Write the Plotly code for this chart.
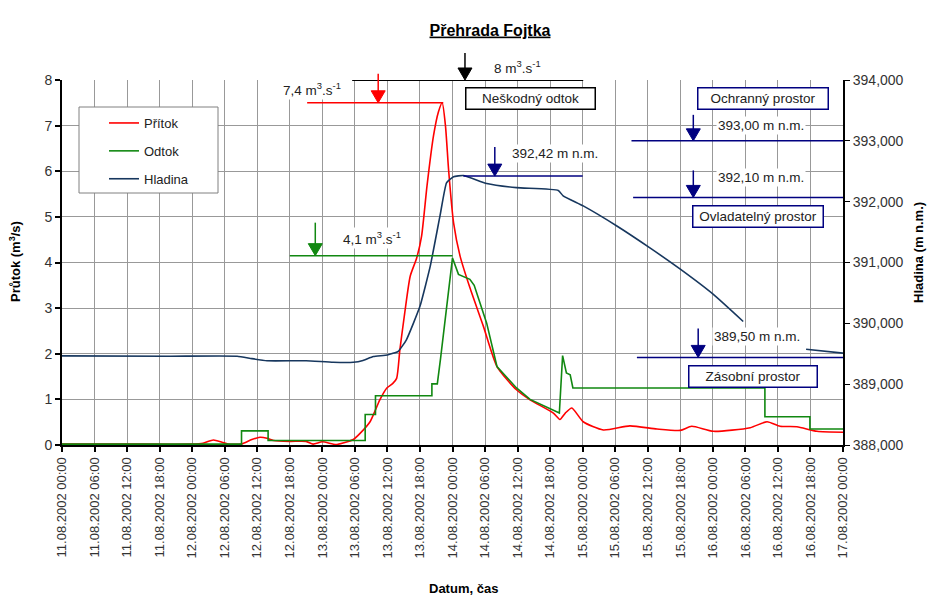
import datetime as dt
import plotly.graph_objects as go

# ---------------- data ----------------
BASE = dt.datetime(2002, 8, 11, 0, 0)

# Přítok (inflow, m3/s) – hours from 11.08.2002 00:00
pritok_h = [0, 12, 24, 26, 27.9, 29.5, 30.6, 33, 35, 36.5, 37.8, 39, 42, 45, 46.3, 48, 50.5,
            52, 53.7, 55, 56.8, 58.6, 59.9, 61, 61.7, 62.3, 63.2, 64.2, 65.4, 66.3, 67.3,
            68.5, 69.4, 70.1, 70.7, 71.3, 72.2, 73.4, 75.2, 77.7, 80.2, 83.8, 86.3, 90.6,
            91.8, 92.8, 94, 96.1, 99.8, 104.7, 109.7, 114, 116.1, 120.1, 126.9, 130, 132.4,
            135.5, 139.2, 144]
pritok_v = [0.02, 0.02, 0.02, 0.04, 0.11, 0.06, 0.02, 0.02, 0.12, 0.17, 0.15, 0.10, 0.08,
            0.08, 0.02, 0.07, 0.01, 0.05, 0.12, 0.26, 0.51, 0.99, 1.25, 1.35, 1.46, 2.09,
            2.90, 3.70, 4.10, 4.58, 5.68, 6.78, 7.30, 7.50, 7.00, 6.00, 4.87, 4.14, 3.45,
            2.60, 1.72, 1.21, 0.99, 0.70, 0.56, 0.70, 0.81, 0.51, 0.33, 0.42, 0.35, 0.32,
            0.41, 0.30, 0.38, 0.51, 0.41, 0.40, 0.30, 0.28]

# Odtok (outflow, m3/s)
odtok_h = [0, 33.1, 33.1, 38.0, 38.0, 55.9, 55.9, 57.8, 57.8, 68.2, 68.2, 69.2, 69.8, 70.9,
           72.0, 73.1, 75.2, 76.0, 78.3, 80.2, 83.8, 86.3, 91.7, 92.3, 93.0, 93.7, 94.2,
           129.6, 129.6, 137.9, 137.9, 144]
odtok_v = [0.02, 0.02, 0.31, 0.31, 0.10, 0.10, 0.67, 0.67, 1.08, 1.08, 1.34, 1.34, 1.90,
           2.97, 4.10, 3.74, 3.63, 3.50, 2.67, 1.72, 1.25, 1.00, 0.70, 1.96, 1.58, 1.54,
           1.25, 1.25, 0.62, 0.62, 0.35, 0.35]

# Hladina (water level, m n.m.) – None = missing record
hladina_h = [0, 20, 32.3, 35, 37.8, 45, 50, 53.7, 55.5, 57.4, 60, 62, 63.5, 66, 67.9, 69.7,
             70.9, 72.2, 74, 78.3, 83.8, 91.5, 92.4, 96.1, 102.3, 108.4, 114, 120.1, 125.6,
             131, 137.2, 144]
hladina_v = [389.465, 389.46, 389.46, 389.42, 389.385, 389.385, 389.36, 389.36, 389.39,
             389.455, 389.48, 389.54, 389.73, 390.28, 390.94, 391.77, 392.31, 392.41, 392.43,
             392.30, 392.23, 392.185, 392.095, 391.93, 391.60, 391.24, 390.89, 390.475,
             390.03, None, 389.575, 389.51]

# reference levels
peak_in = 7.5          # 7,4 m3/s
peak_out = 4.15        # 4,1 m3/s
harmless = 8.0         # 8 m3/s
lvl_max = 392.42
lvl_ochr = 393.00
lvl_ovl = 392.07
lvl_zas = 389.44

Y1 = (0, 8)
Y2 = (388, 394)
HOURS = 144

# ---------------- geometry ----------------
OFF = 8                      # page body margin of the html page
FW, FH = 923, 590
L, R, T, B = 54, 88, 72, 153
PW, PH = FW - L - R, FH - T - B
X0S = OFF + L                # screen x of plot left
YBS = OFF + FH - B           # screen y of plot bottom


def tm(h):
    return BASE + dt.timedelta(hours=h)


def px(x):
    return (x - X0S) / PW


def py(y):
    return (YBS - y) / PH


def hour_px(h):
    return X0S + h / HOURS * PW


def val_py(v, ax="y"):
    lo, hi = Y1 if ax == "y" else Y2
    return YBS - (v - lo) / (hi - lo) * PH


FONT = "Arial, Liberation Sans, sans-serif"
RED, GREEN, BLUE, NAVY = "#FF0000", "#118811", "#17375E", "#000080"
TXT = 13.5

fig = go.Figure()
fig.add_trace(go.Scatter(x=[tm(h) for h in pritok_h], y=pritok_v, name="Přítok",
                         mode="lines", line=dict(color=RED, width=1.6, shape="spline",
                                                 smoothing=0.6), legendgroup="a"))
fig.add_trace(go.Scatter(x=[tm(h) for h in odtok_h], y=odtok_v, name="Odtok",
                         mode="lines", line=dict(color=GREEN, width=1.6), legendgroup="b"))
fig.add_trace(go.Scatter(x=[tm(h) for h in hladina_h], y=hladina_v, name="Hladina",
                         mode="lines", line=dict(color=BLUE, width=1.6, shape="spline",
                                                 smoothing=0.4), yaxis="y2",
                         legendgroup="c", connectgaps=False))

shapes = []


def hline(h0, h1, yv, color, yref="y", width=1.5):
    shapes.append(dict(type="line", xref="x", yref=yref, x0=tm(h0), x1=tm(h1), y0=yv, y1=yv,
                       line=dict(color=color, width=width), layer="above"))


hline(45.2, 70.3, peak_in, RED)
hline(42.0, 72.0, peak_out, GREEN)
hline(53.5, 96.1, harmless, "black", width=2.2)
hline(74.0, 96.0, lvl_max, NAVY, "y2")
hline(105.0, HOURS, lvl_ochr, NAVY, "y2")
hline(105.3, HOURS, lvl_ovl, NAVY, "y2")
hline(106.0, HOURS, lvl_zas, NAVY, "y2")


def arrow(h, level, stem, color, ax="y"):
    xs = hour_px(h)
    tip = val_py(level, ax)
    hw, hh = 7, 12
    shapes.append(dict(type="line", xref="paper", yref="paper", x0=px(xs), x1=px(xs),
                       y0=py(tip - stem), y1=py(tip - hh + 1),
                       line=dict(color=color, width=1.5), layer="above"))
    path = "M {:.5f} {:.5f} L {:.5f} {:.5f} L {:.5f} {:.5f} Z".format(
        px(xs - hw), py(tip - hh), px(xs + hw), py(tip - hh), px(xs), py(tip))
    shapes.append(dict(type="path", xref="paper", yref="paper", path=path,
                       fillcolor=color, line=dict(color=color, width=1), layer="above"))


arrow(58.3, peak_in, 29, RED)
arrow(46.7, peak_out, 33, GREEN)
arrow(74.3, harmless, 27, "black")
arrow(79.8, lvl_max, 29, NAVY, "y2")
arrow(116.4, lvl_ochr, 26, NAVY, "y2")
arrow(116.4, lvl_ovl, 27, NAVY, "y2")
arrow(117.3, lvl_zas, 29, NAVY, "y2")

# legend frame
shapes.append(dict(type="rect", xref="paper", yref="paper", x0=px(79), x1=px(218),
                   y0=py(193), y1=py(107), fillcolor="white",
                   line=dict(color="#808080", width=1), layer="above"))

ann = []


def label(x, y, text):
    ann.append(dict(x=px(x), y=py(y), xref="paper", yref="paper", text=text,
                    showarrow=False, font=dict(family=FONT, size=TXT, color="#222"),
                    bgcolor="white", borderpad=1, xanchor="center", yanchor="middle"))


def box(x, y, w, h, text, color):
    ann.append(dict(x=px(x), y=py(y), xref="paper", yref="paper", text=text,
                    showarrow=False, font=dict(family=FONT, size=TXT, color="#222"),
                    bgcolor="white", bordercolor=color, borderwidth=1.5, borderpad=0,
                    width=w - 3, height=h - 3, xanchor="center", yanchor="middle"))


label(312, 89, "7,4 m<sup>3</sup>.s<sup>-1</sup>")
label(517, 67, "8 m<sup>3</sup>.s<sup>-1</sup>")
label(372, 238, "4,1 m<sup>3</sup>.s<sup>-1</sup>")
label(555, 153, "392,42 m n.m.")
label(761, 125, "393,00 m n.m.")
label(761, 177, "392,10 m n.m.")
label(757, 336, "389,50 m n.m.")

box(530.5, 98.5, 131, 23, "Neškodný odtok", "black")
box(763, 98.5, 132, 23, "Ochranný prostor", NAVY)
box(758, 216.5, 132, 23, "Ovladatelný prostor", NAVY)
box(753, 376.5, 130, 23, "Zásobní prostor", NAVY)

# axis titles
ann.append(dict(x=px(15), y=py(262), xref="paper", yref="paper",
                text="<b>Průtok (m<sup>3</sup>/s)</b>", textangle=-90, showarrow=False,
                font=dict(family=FONT, size=13, color="black"), xanchor="center",
                yanchor="middle"))
ann.append(dict(x=px(918), y=py(253), xref="paper", yref="paper",
                text="<b>Hladina (m n.m.)</b>", textangle=-90, showarrow=False,
                font=dict(family=FONT, size=13, color="black"), xanchor="center",
                yanchor="middle"))
ann.append(dict(x=px(463), y=py(588), xref="paper", yref="paper",
                text="<b>Datum, čas</b>", showarrow=False,
                font=dict(family=FONT, size=13, color="black"), xanchor="center",
                yanchor="middle"))

fig.update_layout(
    width=FW, height=FH,
    margin=dict(l=L, r=R, t=T, b=B, autoexpand=False),
    paper_bgcolor="white", plot_bgcolor="white",
    separators=", ",
    font=dict(family=FONT, size=13, color="#222"),
    title=dict(text="<b><u>Přehrada Fojtka</u></b>", x=(490 - OFF) / FW,
               y=1 - (30 - OFF) / FH, xanchor="center", yanchor="middle",
               font=dict(family=FONT, size=16, color="black")),
    showlegend=True,
    legend=dict(x=px(104), y=py(108), xanchor="left", yanchor="top",
                bgcolor="rgba(0,0,0,0)", borderwidth=0, tracegroupgap=8,
                font=dict(family=FONT, size=13, color="#222"), itemwidth=30),
    xaxis=dict(type="date", range=[tm(0), tm(HOURS)], tick0=tm(0), dtick=6 * 3600 * 1000,
               tickformat="%d.%m.%Y %H:%M", tickangle=-90, showgrid=True,
               gridcolor="#999999", gridwidth=1, showline=True, linecolor="black",
               linewidth=2, ticks="outside", ticklen=5, tickwidth=1.5, tickcolor="black",
               tickfont=dict(family=FONT, size=13, color="#333"), zeroline=False),
    yaxis=dict(range=list(Y1), dtick=1, showgrid=True, gridcolor="#999999", gridwidth=1,
               showline=True, linecolor="black", linewidth=2, ticks="outside", ticklen=5,
               tickwidth=1.5, tickcolor="black", zeroline=False,
               tickfont=dict(family=FONT, size=14, color="#333")),
    yaxis2=dict(range=list(Y2), dtick=1, tickformat=".3f", overlaying="y", side="right",
                showgrid=False, showline=True, linecolor="black", linewidth=2,
                ticks="outside", ticklen=5, tickwidth=1, tickcolor="black", zeroline=False,
                tickfont=dict(family=FONT, size=14, color="#333")),
    shapes=shapes,
    annotations=ann,
)

fig.write_html("out.html")
